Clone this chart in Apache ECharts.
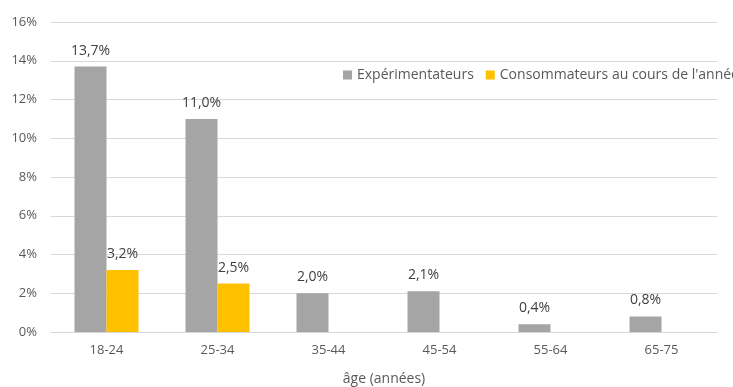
<!DOCTYPE html>
<html><head><meta charset="utf-8">
<script src="https://cdn.jsdelivr.net/npm/echarts@6/dist/echarts.min.js"></script>
<style>html,body{margin:0;padding:0;background:#fff}#c{width:733px;height:387px}</style>
</head><body><div id="c"></div>
<script>
const categories = ['18-24','25-34','35-44','45-54','55-64','65-75'];
const experimentateurs = [13.7, 11.0, 2.0, 2.1, 0.4, 0.8];
const consommateurs = [3.2, 2.5, null, null, null, null];
const seriesNames = ['Expérimentateurs', "Consommateurs au cours de l'année"];
const yTicks = [0, 2, 4, 6, 8, 10, 12, 14, 16];

const font = 'Open Sans';
const fmt = v => v.toFixed(1).replace('.', ',') + '%';
const chart = echarts.init(document.getElementById('c'));
chart.setOption({
  animation: false,
  textStyle: { fontFamily: font },
  legend: {
    left: 338, top: 63, width: 1000, itemWidth: 9, itemHeight: 9, itemGap: 12,
    icon: 'rect',
    textStyle: { fontSize: 14, color: '#595959', fontFamily: font },
    data: seriesNames
  },
  grid: { left: 51, right: 16, top: 22, bottom: 55, outerBoundsMode: 'none', containLabel: false },
  xAxis: {
    type: 'category', data: categories,
    name: 'âge (années)', nameLocation: 'middle', nameGap: 40,
    nameTextStyle: { fontSize: 14, color: '#595959', fontFamily: font },
    axisLine: { lineStyle: { color: '#D9D9D9', width: 1 } },
    axisTick: { show: false },
    axisLabel: { fontSize: 13, color: '#595959', margin: 12, fontFamily: font }
  },
  yAxis: {
    type: 'value', min: yTicks[0], max: yTicks[yTicks.length - 1], interval: 2,
    axisLine: { show: false }, axisTick: { show: false },
    splitLine: { lineStyle: { color: '#D9D9D9', width: 1 } },
    axisLabel: { fontSize: 13, color: '#595959', margin: 14, formatter: v => v + '%', fontFamily: font }
  },
  series: [
    { name: seriesNames[0], type: 'bar', data: experimentateurs, barWidth: 32, barGap: '0%',
      itemStyle: { color: '#A5A5A5' },
      label: { show: true, position: 'top', distance: 9, fontSize: 14, color: '#404040', fontFamily: font, formatter: p => fmt(p.value) } },
    { name: seriesNames[1], type: 'bar', data: consommateurs, barWidth: 32,
      itemStyle: { color: '#FFC000' },
      label: { show: true, position: 'top', distance: 9, fontSize: 14, color: '#404040', fontFamily: font, formatter: p => fmt(p.value) } }
  ]
});
</script></body></html>
